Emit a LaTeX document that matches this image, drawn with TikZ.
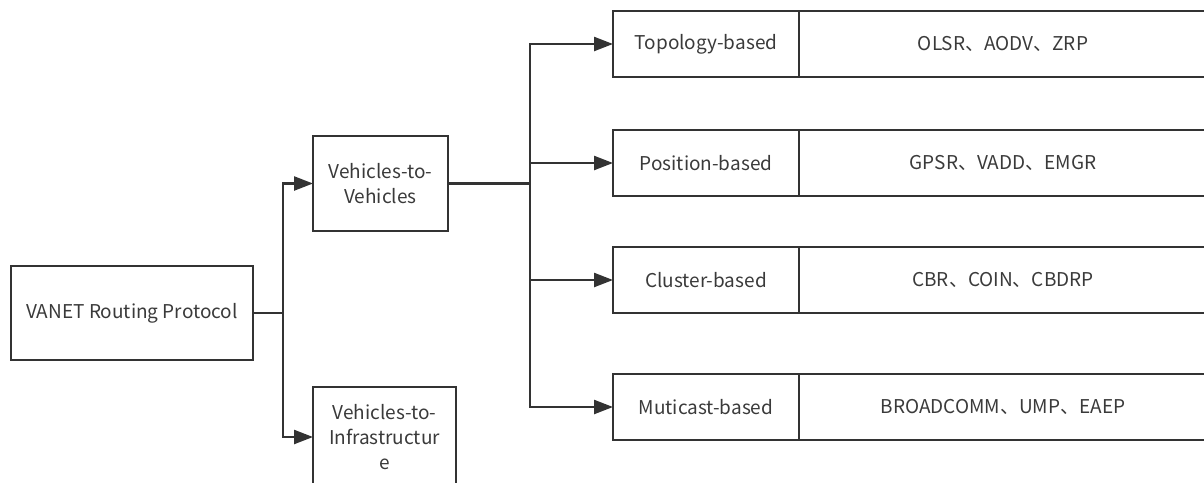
\documentclass[tikz,border=0pt]{standalone}
\usepackage{fontspec}
\setmainfont{Noto Sans CJK SC}
\usepackage{xcolor}
\usetikzlibrary{arrows.meta,positioning}

\definecolor{linegray}{HTML}{333333}
\definecolor{textgray}{HTML}{3A3A3A}

\begin{document}
\begin{tikzpicture}[
    x=0.5pt, y=-0.5pt,
    mybox/.style={draw=linegray, line width=1.2pt, rectangle, outer sep=0pt, inner sep=2pt,
        align=center, text=textgray, font=\fontsize{9.5}{12.5}\selectfont},
    catbox/.style={mybox, minimum width=93pt, minimum height=33pt},
    valbox/.style={mybox, minimum width=204pt, minimum height=33pt},
    myedge/.style={draw=linegray, line width=1.2pt},
    myarrow/.style={myedge, -{Triangle[length=9.5pt,width=7pt]}}
]
\useasboundingbox (0,0) rectangle (1204,482);

\node[mybox, minimum width=121pt, minimum height=47pt] (root) at (132,313) {VANET Routing Protocol};
\node[mybox, minimum width=67.5pt, minimum height=47.5pt] (v2v) at (380.5,183.5) {Vehicles-to-\\Vehicles};
\node[mybox, minimum width=71.5pt, minimum height=50pt] (v2i) at (384.5,437) {Vehicles-to-\\Infrastructur\\e};

% routing categories
\node[catbox] (topo) at (706,44) {Topology-based};
\node[valbox, right=0pt of topo] (topoval) {OLSR、AODV、ZRP};
\node[catbox] (pos) at (706,163) {Position-based};
\node[valbox, right=0pt of pos] (posval) {GPSR、VADD、EMGR};
\node[catbox] (clus) at (706,280) {Cluster-based};
\node[valbox, right=0pt of clus] (clusval) {CBR、COIN、CBDRP};
\node[catbox] (mcast) at (706,407) {Muticast-based};
\node[valbox, right=0pt of mcast] (mcastval) {BROADCOMM、UMP、EAEP};

\coordinate (j1) at (283,313);
\coordinate (j2) at (530,183.5);

\draw[myedge] (root) -- (j1);
\draw[myarrow] (j1) |- (v2v);
\draw[myarrow] (j1) |- (v2i);

\draw[myedge] (v2v) -- (j2);
\foreach \n in {topo,pos,clus,mcast}
    \draw[myarrow] (j2) |- (\n);
\end{tikzpicture}
\end{document}
